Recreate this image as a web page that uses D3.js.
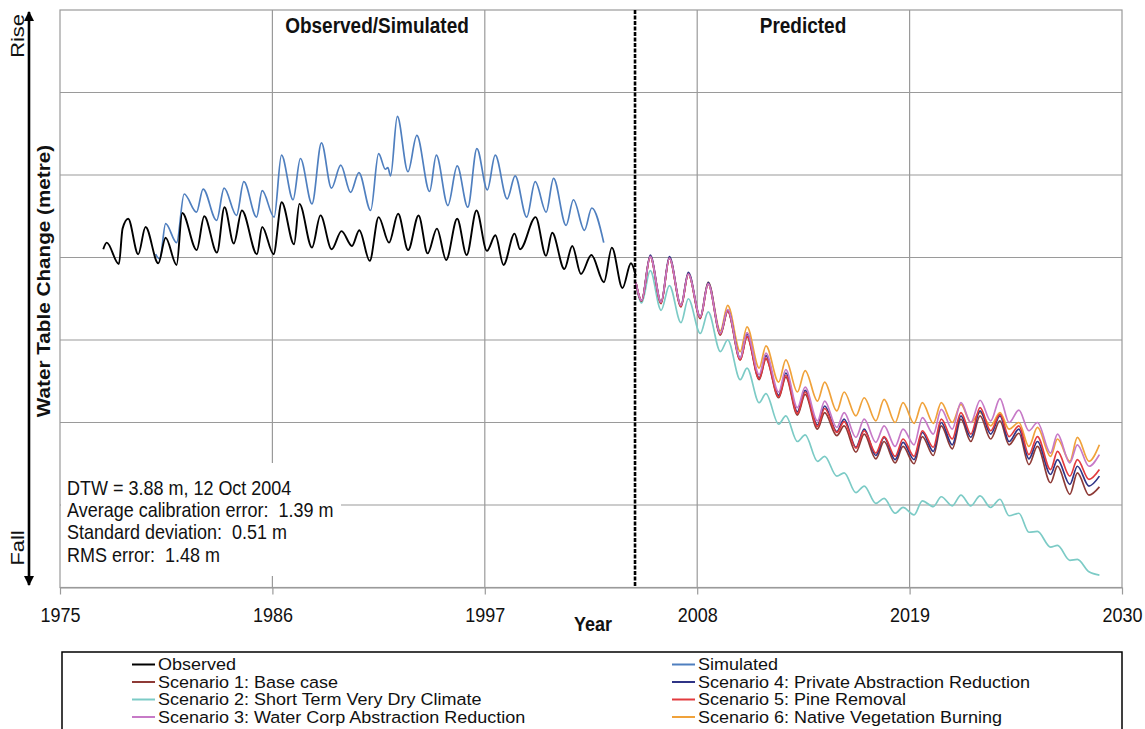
<!DOCTYPE html>
<html><head><meta charset="utf-8">
<script src="https://cdn.jsdelivr.net/npm/d3@7"></script>
<style>
body{margin:0;background:#fff}
svg{display:block;font-family:"Liberation Sans",Arial,sans-serif}
</style>
</head><body>
<svg id="chart" width="1145" height="729"></svg>
<script>
// ---------- data ----------
const xTicks = [1975, 1986, 1997, 2008, 2019, 2030];
const yGrid = [-3, -2, -1, 0, 1, 2];
const predictionStart = 2004.78;

const obsYears = [1977.24,1977.42,1978.05,1978.24,1978.53,1979.05,1979.43,1980.09,1980.47,1981.04,1981.33,1982.08,1982.47,1983.13,1983.52,1984.0,1984.42,1985.2,1985.47,1986.06,1986.48,1987.12,1987.4,1988.05,1988.49,1989.07,1989.58,1990.12,1990.5,1991.04,1991.5,1992.04,1992.51,1993.03,1993.57,1994.04,1994.52,1995.0,1995.57,1996.06,1996.57,1997.11,1997.55,1997.97,1998.54,1998.83,1999.63,2000.17,2000.49,2001.12,2001.53,2001.98,2002.52,2003.17,2003.58,2004.13,2004.57,2004.82];
const obsValues = [0.10,0.18,-0.08,0.35,0.47,0.04,0.37,-0.07,0.24,-0.09,0.54,0.09,0.50,0.06,0.61,0.17,0.57,0.04,0.37,0.04,0.67,0.16,0.65,0.12,0.51,0.10,0.32,0.14,0.33,-0.04,0.49,0.18,0.53,0.09,0.51,0.05,0.35,-0.03,0.47,0.03,0.57,0.08,0.27,-0.09,0.29,0.10,0.49,0.02,0.30,-0.14,0.14,-0.20,0.03,-0.30,0.12,-0.37,-0.07,-0.22];

const simYears = [1979.95,1980.17,1980.47,1981.04,1981.43,1982.07,1982.41,1983.11,1983.5,1984.14,1984.52,1985.18,1985.47,1986.09,1986.47,1987.07,1987.45,1988.05,1988.54,1989.06,1989.54,1990.05,1990.48,1991.09,1991.5,1991.85,1991.98,1992.12,1992.47,1993.02,1993.48,1994.14,1994.49,1995.09,1995.57,1996.12,1996.59,1997.13,1997.54,1998.16,1998.57,1999.17,1999.61,2000.18,2000.56,2001.21,2001.59,2002.16,2002.54,2003.16];
const simValues = [0.04,-0.02,0.41,0.18,0.77,0.55,0.83,0.45,0.84,0.51,0.92,0.49,0.81,0.49,1.24,0.70,1.20,0.65,1.39,0.84,1.12,0.79,1.03,0.57,1.26,1.07,1.09,0.99,1.71,1.04,1.48,0.80,1.24,0.63,1.11,0.61,1.32,0.82,1.24,0.71,0.99,0.49,0.92,0.55,0.96,0.39,0.70,0.33,0.60,0.18];

const predYears = [2004.82,2005.12,2005.57,2006.13,2006.56,2007.16,2007.54,2008.16,2008.57,2009.2,2009.58,2010.23,2010.58,2011.21,2011.56,2012.22,2012.59,2013.19,2013.59,2014.23,2014.6,2015.23,2015.61,2016.22,2016.65,2017.25,2017.68,2018.25,2018.66,2019.23,2019.66,2020.23,2020.64,2021.21,2021.66,2022.17,2022.65,2023.2,2023.68,2024.15,2024.66,2025.18,2025.62,2026.3,2026.66,2027.3,2027.69,2028.29,2028.83];

const sc1Values = [-0.30,-0.53,0.01,-0.56,-0.01,-0.60,-0.20,-0.74,-0.32,-0.94,-0.65,-1.24,-0.96,-1.48,-1.23,-1.70,-1.45,-1.91,-1.66,-2.08,-1.88,-2.16,-2.04,-2.36,-2.14,-2.44,-2.23,-2.49,-2.29,-2.50,-2.17,-2.40,-2.04,-2.32,-1.96,-2.23,-1.92,-2.20,-1.98,-2.27,-2.13,-2.51,-2.29,-2.73,-2.53,-2.87,-2.61,-2.88,-2.78];
const sc2Values = [-0.30,-0.55,-0.16,-0.64,-0.34,-0.79,-0.50,-0.92,-0.66,-1.14,-1.00,-1.48,-1.34,-1.76,-1.65,-2.02,-1.92,-2.23,-2.15,-2.47,-2.41,-2.65,-2.61,-2.85,-2.77,-2.98,-2.92,-3.10,-3.03,-3.12,-2.95,-3.02,-2.90,-3.01,-2.88,-3.01,-2.89,-3.03,-2.93,-3.13,-3.10,-3.33,-3.32,-3.51,-3.49,-3.67,-3.66,-3.81,-3.85];
const sc3Values = [-0.30,-0.52,0.01,-0.54,-0.01,-0.58,-0.20,-0.72,-0.32,-0.92,-0.63,-1.22,-0.91,-1.42,-1.16,-1.63,-1.36,-1.82,-1.57,-1.98,-1.74,-2.06,-1.88,-2.18,-1.96,-2.24,-2.04,-2.29,-2.08,-2.27,-1.94,-2.14,-1.84,-2.08,-1.76,-2.00,-1.73,-1.98,-1.71,-2.00,-1.85,-2.10,-2.00,-2.37,-2.14,-2.49,-2.27,-2.53,-2.39];
const sc4Values = [-0.30,-0.52,0.03,-0.54,0.01,-0.58,-0.18,-0.72,-0.30,-0.92,-0.64,-1.22,-0.93,-1.46,-1.19,-1.67,-1.40,-1.87,-1.61,-2.03,-1.80,-2.11,-1.96,-2.30,-2.08,-2.40,-2.18,-2.45,-2.24,-2.45,-2.12,-2.35,-2.00,-2.27,-1.92,-2.18,-1.86,-2.14,-1.92,-2.23,-2.08,-2.44,-2.23,-2.63,-2.45,-2.75,-2.53,-2.77,-2.65];
const sc5Values = [-0.30,-0.52,0.01,-0.55,-0.01,-0.59,-0.20,-0.73,-0.32,-0.93,-0.65,-1.24,-0.96,-1.47,-1.22,-1.69,-1.43,-1.89,-1.63,-2.05,-1.83,-2.12,-1.99,-2.31,-2.10,-2.37,-2.17,-2.41,-2.20,-2.41,-2.10,-2.30,-1.96,-2.20,-1.88,-2.14,-1.82,-2.10,-1.90,-2.17,-2.04,-2.39,-2.17,-2.57,-2.35,-2.65,-2.45,-2.69,-2.57];
const sc6Values = [-0.30,-0.52,0.01,-0.54,-0.01,-0.58,-0.20,-0.72,-0.30,-0.89,-0.58,-1.14,-0.84,-1.34,-1.07,-1.51,-1.24,-1.63,-1.37,-1.74,-1.51,-1.86,-1.63,-1.92,-1.70,-1.98,-1.72,-2.00,-1.76,-2.01,-1.76,-2.01,-1.76,-2.00,-1.78,-2.00,-1.88,-2.04,-1.88,-2.08,-2.00,-2.29,-2.06,-2.41,-2.20,-2.47,-2.18,-2.47,-2.27];

const seriesNames = ["Observed","Simulated","Scenario 1: Base case","Scenario 2: Short Term Very Dry Climate","Scenario 3: Water Corp Abstraction Reduction","Scenario 4: Private Abstraction Reduction","Scenario 5: Pine Removal","Scenario 6: Native Vegetation Burning"];
const seriesColors = ["#000000","#4f7fbf","#8e3a36","#7ccbc6","#c77ac7","#2f3486","#e23b3e","#f0a23a"];
const legendColumns = [[0, 2, 3, 4], [1, 5, 6, 7]];
const annotationLines = ["DTW = 3.88 m, 12 Oct 2004","Average calibration error:  1.39 m","Standard deviation:  0.51 m","RMS error:  1.48 m"];

// ---------- layout ----------
const svg = d3.select("#chart");
const L = 60, R = 1122, T = 10, B = 587.5;
const STRETCH = 1.15;
const x = d3.scaleLinear().domain([1975, 2030]).range([L, R]);
const y = d3.scaleLinear().domain([-4, 3]).range([B, T]);
const gridColor = "#9a9a9a";

function label(sel, px, py, str, opts = {}) {
  const rot = opts.rotate ? ` rotate(${opts.rotate})` : "";
  const sx = opts.sx || 1, sy = opts.sy || STRETCH;
  return sel.append("text")
    .attr("transform", `translate(${px},${py}) scale(${sx},${sy})${rot}`)
    .attr("text-anchor", opts.anchor || "start")
    .attr("font-size", opts.size || 18)
    .attr("font-weight", opts.bold ? "bold" : "normal")
    .attr("fill", "#111")
    .style("white-space", "pre")
    .text(str);
}

// gridlines
const grid = svg.append("g");
grid.selectAll("line.h").data(yGrid).join("line")
  .attr("x1", L).attr("x2", R).attr("y1", d => y(d)).attr("y2", d => y(d))
  .attr("stroke", gridColor).attr("stroke-width", 1.2);
grid.selectAll("line.v").data(xTicks.slice(1, -1)).join("line")
  .attr("x1", d => x(d)).attr("x2", d => x(d)).attr("y1", T).attr("y2", B)
  .attr("stroke", gridColor).attr("stroke-width", 1.2);
svg.append("rect").attr("x", L).attr("y", T).attr("width", R - L).attr("height", B - T)
  .attr("fill", "none").attr("stroke", gridColor).attr("stroke-width", 1.2);

// x axis
const xAxis = svg.append("g").attr("transform", `translate(0,${B})`)
  .call(d3.axisBottom(x).tickValues(xTicks).tickFormat(d3.format("d")).tickSize(7).tickSizeOuter(0));
xAxis.select(".domain").attr("stroke", gridColor).attr("stroke-width", 1.2);
xAxis.selectAll(".tick line").attr("stroke", gridColor).attr("stroke-width", 1.2);
xAxis.selectAll(".tick text")
  .attr("font-size", 18).attr("font-family", '"Liberation Sans",Arial,sans-serif').attr("fill", "#111")
  .attr("y", 0).attr("dy", null)
  .attr("transform", `translate(0,34) scale(1,${STRETCH})`);

// annotation box (white background hides grid)
svg.append("rect").attr("x", L + 1).attr("y", 463).attr("width", 280).attr("height", 113).attr("fill", "#fff");
annotationLines.forEach((t, i) => label(svg, 67, 495 + i * 22.2, t, {size: 18}));

// lines
const lineGen = d3.line().x(d => x(d[0])).y(d => y(d[1])).curve(d3.curveMonotoneX);
const zip = (xs, ys) => xs.map((v, i) => [v, ys[i]]);
const plot = svg.append("g").attr("fill", "none").attr("stroke-width", 1.7).attr("stroke-linejoin", "round");
const drawOrder = [
  [zip(predYears, sc2Values), 3],
  [zip(predYears, sc6Values), 7],
  [zip(predYears, sc1Values), 2],
  [zip(predYears, sc4Values), 5],
  [zip(predYears, sc5Values), 6],
  [zip(predYears, sc3Values), 4],
  [zip(simYears, simValues), 1],
  [zip(obsYears, obsValues), 0]
];
drawOrder.forEach(([pts, ci]) => {
  plot.append("path").attr("d", lineGen(pts)).attr("stroke", seriesColors[ci])
    .attr("stroke-width", ci === 0 ? 1.9 : 1.7);
});

// prediction divider
svg.append("line").attr("x1", x(predictionStart)).attr("x2", x(predictionStart))
  .attr("y1", T).attr("y2", B).attr("stroke", "#000").attr("stroke-width", 2.6)
  .attr("stroke-dasharray", "4,1.5");

// section titles
label(svg, 377, 33, "Observed/Simulated", {anchor: "middle", bold: true, size: 19});
label(svg, 803, 33, "Predicted", {anchor: "middle", bold: true, size: 19});

// y axis label + arrow
label(svg, 50, 281, "Water Table Change (metre)", {anchor: "middle", bold: true, size: 18, rotate: -90});
label(svg, 24, 36, "Rise", {anchor: "middle", size: 19, rotate: -90});
label(svg, 24, 548, "Fall", {anchor: "middle", size: 19, rotate: -90});
const defs = svg.append("defs");
["start", "end"].forEach(k => {
  defs.append("marker").attr("id", "arr-" + k).attr("viewBox", "0 0 10 10")
    .attr("refX", 9).attr("refY", 5).attr("markerWidth", 4).attr("markerHeight", 4)
    .attr("orient", k === "start" ? "auto-start-reverse" : "auto")
    .append("path").attr("d", "M0,0 L10,5 L0,10 Z").attr("fill", "#000");
});
svg.append("line").attr("x1", 29).attr("x2", 29).attr("y1", 12).attr("y2", 585)
  .attr("stroke", "#000").attr("stroke-width", 2.6)
  .attr("marker-start", "url(#arr-start)").attr("marker-end", "url(#arr-end)");

// x title
label(svg, 593, 631, "Year", {anchor: "middle", bold: true, size: 18});

// legend
const lg = svg.append("g");
lg.append("rect").attr("x", 62).attr("y", 652).attr("width", 1060).attr("height", 100)
  .attr("fill", "#fff").attr("stroke", "#000").attr("stroke-width", 1.5);
const legendX = [132, 672];
legendColumns.forEach((col, c) => {
  col.forEach((si, row) => {
    const cx = legendX[c], cy = 664.5 + row * 17.5;
    lg.append("line").attr("x1", cx).attr("x2", cx + 23).attr("y1", cy).attr("y2", cy)
      .attr("stroke", seriesColors[si]).attr("stroke-width", 2);
    label(lg, cx + 26, cy + 5.5, seriesNames[si], {size: 15, sx: 1.2, sy: 1.04});
  });
});
</script>
</body></html>
